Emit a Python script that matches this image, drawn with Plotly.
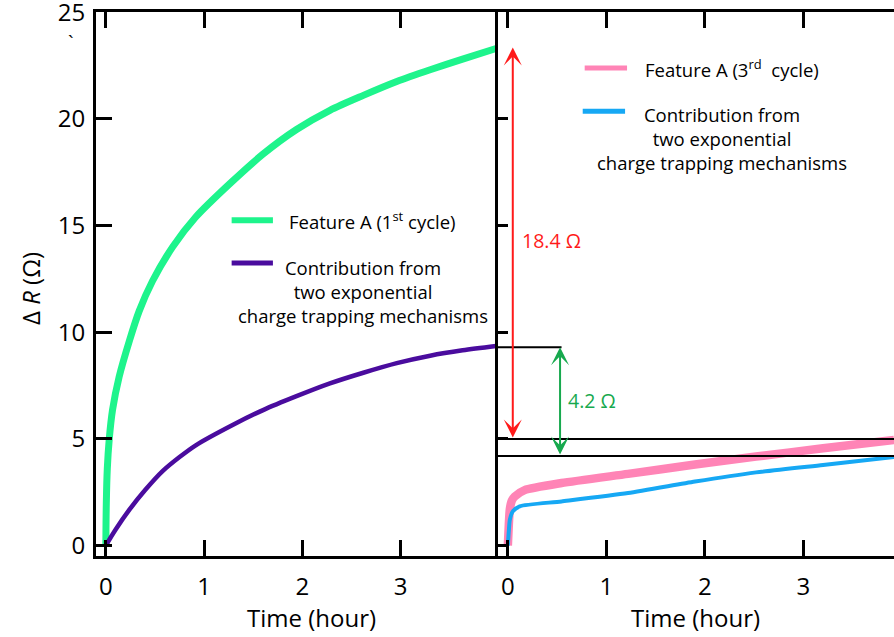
import plotly.graph_objects as go

# ---------------- data ----------------
t_green = [0, 0.005, 0.015, 0.034, 0.068, 0.135, 0.24, 0.34, 0.475, 0.68, 0.915,
           1.27, 1.6, 1.94, 2.28, 2.62, 2.96, 3.30, 3.63, 3.97]
r_green = [0, 2.0, 3.6, 4.95, 6.35, 7.9, 9.6, 11.0, 12.4, 14.0, 15.4,
           17.0, 18.35, 19.5, 20.4, 21.1, 21.75, 22.3, 22.8, 23.3]

t_purple = [0, 0.1, 0.24, 0.4, 0.58, 0.75, 0.915, 1.29, 1.6, 1.94, 2.28, 2.62,
            2.96, 3.30, 3.63, 3.97]
r_purple = [0, 0.75, 1.68, 2.6, 3.5, 4.15, 4.7, 5.65, 6.35, 7.0, 7.6, 8.1,
            8.55, 8.9, 9.15, 9.35]

t_pink = [0, 0.01, 0.02, 0.04, 0.07, 0.17, 0.545, 1.22, 1.9, 2.52, 3.2, 3.92]
r_pink = [0, 1.0, 1.7, 2.1, 2.3, 2.6, 2.93, 3.36, 3.8, 4.17, 4.56, 4.95]

t_blue = [0, 0.01, 0.02, 0.05, 0.12, 0.545, 1.22, 1.9, 2.52, 3.2, 3.92]
r_blue = [0, 0.7, 1.2, 1.6, 1.84, 2.07, 2.46, 3.0, 3.43, 3.78, 4.15]

x_ticks = [0, 1, 2, 3]
y_ticks = [0, 5, 10, 15, 20, 25]

level_top = 9.3      # end of 1st-cycle contribution
level_mid = 5.0      # end of 3rd-cycle feature A
level_low = 4.2      # end of 3rd-cycle contribution
red_top = 23.35
red_label = "18.4 Ω"
green_label = "4.2 Ω"

name_green = "Feature A (1<sup>st</sup> cycle)"
name_pink = "Feature A (3<sup>rd</sup>\u00a0 cycle)"
name_contrib = "Contribution from<br>two exponential<br>charge trapping mechanisms"

# ---------------- style ----------------
C_GREEN = "#1ef48c"
C_PURPLE = "#4a0c9e"
C_PINK = "#ff84b6"
C_BLUE = "#16a8f4"
C_RED = "#ff1a1a"
C_DGREEN = "#17a94e"
FONT = "Open Sans"

W, H = 894, 637
ML, MR, MT, MB = 96, 0, 12, 81
split = 402 / (W - ML - MR)

fig = go.Figure()
fig.add_trace(go.Scatter(x=t_green, y=r_green, mode="lines", xaxis="x", yaxis="y",
                         line=dict(color=C_GREEN, width=7, shape="spline", smoothing=0.8),
                         showlegend=False))
fig.add_trace(go.Scatter(x=t_purple, y=r_purple, mode="lines", xaxis="x", yaxis="y",
                         line=dict(color=C_PURPLE, width=4.5, shape="spline", smoothing=0.8),
                         showlegend=False))
fig.add_trace(go.Scatter(x=t_pink, y=r_pink, mode="lines", xaxis="x2", yaxis="y2",
                         line=dict(color=C_PINK, width=8.5, shape="spline", smoothing=0.6),
                         showlegend=False))
fig.add_trace(go.Scatter(x=t_blue, y=r_blue, mode="lines", xaxis="x2", yaxis="y2",
                         line=dict(color=C_BLUE, width=4, shape="spline", smoothing=0.6),
                         showlegend=False))

yr = [-0.49, 25.01]
common_x = dict(tickvals=x_ticks, ticks="inside", ticklen=16, tickwidth=3, tickcolor="black",
                showline=True, linewidth=3, linecolor="black", mirror="ticks",
                showgrid=False, zeroline=False, automargin=False,
                tickfont=dict(family=FONT, size=24, color="black"), ticklabelstandoff=7)

fig.update_layout(
    width=W, height=H,
    margin=dict(l=ML, r=MR, t=MT, b=MB, pad=0, autoexpand=False),
    paper_bgcolor="white", plot_bgcolor="white",
    font=dict(family=FONT, color="black"),
    xaxis=dict(domain=[0, split], range=[-0.10, 3.99], anchor="y", **common_x),
    xaxis2=dict(domain=[split, 1], range=[-0.10, 3.92], anchor="y2", **common_x),
    yaxis=dict(domain=[0, 1], range=yr, anchor="x", tickvals=y_ticks, ticks="inside",
               ticklen=16, tickwidth=3, tickcolor="black", showline=True, linewidth=3,
               linecolor="black", mirror=False, showgrid=False, zeroline=False,
               ticklabeloverflow="allow", automargin=False,
               tickfont=dict(family=FONT, size=24, color="black"), ticklabelstandoff=3),
    yaxis2=dict(domain=[0, 1], range=yr, anchor="x2", tickvals=y_ticks, ticks="inside",
                ticklen=10, tickwidth=3, tickcolor="black", showline=True, linewidth=3,
                linecolor="black", mirror=False, showgrid=False, zeroline=False,
                showticklabels=False, automargin=False),
    yaxis3=dict(overlaying="y2", anchor="x2", side="left", range=yr, tickvals=y_ticks,
                ticks="outside", ticklen=10, tickwidth=3, tickcolor="black", automargin=False,
                showline=False, showgrid=False, zeroline=False, showticklabels=False),
    yaxis4=dict(overlaying="y2", anchor="x2", side="right", range=yr, tickvals=y_ticks,
                ticks="inside", ticklen=11, tickwidth=3, tickcolor="black", automargin=False,
                showline=False, showgrid=False, zeroline=False, showticklabels=False),
)

# reference levels (horizontal black lines)
shapes = [
    dict(type="line", xref="x2", yref="y2", x0=-0.10, x1=0.545, y0=level_top, y1=level_top,
         line=dict(color="black", width=2)),
    dict(type="line", xref="x2", yref="y2", x0=-0.10, x1=3.92, y0=level_mid, y1=level_mid,
         line=dict(color="black", width=2)),
    dict(type="line", xref="x2", yref="y2", x0=-0.10, x1=3.92, y0=level_low, y1=level_low,
         line=dict(color="black", width=2)),
    # legend samples
    dict(type="line", xref="x", yref="y", x0=1.28, x1=1.70, y0=15.25, y1=15.25,
         line=dict(color=C_GREEN, width=6)),
    dict(type="line", xref="x", yref="y", x0=1.28, x1=1.70, y0=13.24, y1=13.24,
         line=dict(color=C_PURPLE, width=5)),
    dict(type="line", xref="x2", yref="y2", x0=0.78, x1=1.21, y0=22.38, y1=22.38,
         line=dict(color=C_PINK, width=5)),
    dict(type="line", xref="x2", yref="y2", x0=0.76, x1=1.19, y0=20.36, y1=20.36,
         line=dict(color=C_BLUE, width=5)),
]
fig.update_layout(shapes=shapes)

ann = []
# double arrows
ann.append(dict(xref="x2", yref="y2", axref="x2", ayref="y2", x=0.05, y=red_top,
                ax=0.05, ay=level_mid, text="", showarrow=True, arrowside="end+start",
                arrowhead=3, arrowsize=1.5, arrowwidth=2, arrowcolor=C_RED,
                standoff=0, startstandoff=0))
ann.append(dict(xref="x2", yref="y2", axref="x2", ayref="y2", x=0.53, y=level_top,
                ax=0.53, ay=level_low, text="", showarrow=True, arrowside="end+start",
                arrowhead=3, arrowsize=1.5, arrowwidth=2, arrowcolor=C_DGREEN,
                standoff=0, startstandoff=0))
ann.append(dict(xref="x2", yref="y2", x=0.12, y=14.3, text=red_label, showarrow=False,
                xanchor="left", yanchor="middle",
                font=dict(family=FONT, size=19.5, color=C_RED)))
ann.append(dict(xref="x2", yref="y2", x=0.59, y=6.8, text=green_label, showarrow=False,
                xanchor="left", yanchor="middle",
                font=dict(family=FONT, size=19.5, color=C_DGREEN)))
# legend texts
ann.append(dict(xref="x", yref="y", x=1.84, y=15.25, text=name_green, showarrow=False,
                xanchor="left", yanchor="middle", font=dict(family=FONT, size=18.5)))
ann.append(dict(xref="x", yref="y", x=2.614, y=11.9, text=name_contrib, showarrow=False,
                xanchor="center", yanchor="middle", align="center",
                font=dict(family=FONT, size=18.5)))
ann.append(dict(xref="x2", yref="y2", x=1.37, y=22.38, text=name_pink, showarrow=False,
                xanchor="left", yanchor="middle", font=dict(family=FONT, size=18.5)))
ann.append(dict(xref="x2", yref="y2", x=2.173, y=19.1, text=name_contrib, showarrow=False,
                xanchor="center", yanchor="middle", align="center",
                font=dict(family=FONT, size=18.5)))
# axis titles
pw = W - ML - MR
ph = H - MT - MB
ann.append(dict(xref="paper", yref="paper", x=(311 - ML) / pw, y=-(617 - (H - MB)) / ph,
                text="Time (hour)", showarrow=False, xanchor="center", yanchor="middle",
                font=dict(family=FONT, size=24)))
ann.append(dict(xref="paper", yref="paper", x=(695 - ML) / pw, y=-(617 - (H - MB)) / ph,
                text="Time (hour)", showarrow=False, xanchor="center", yanchor="middle",
                font=dict(family=FONT, size=24)))
ann.append(dict(xref="paper", yref="paper", x=(30 - ML) / pw, y=((H - MB) - 289) / ph,
                text="Δ <i>R</i> (Ω)", showarrow=False, xanchor="center", yanchor="middle",
                textangle=-90, font=dict(family=FONT, size=24)))
ann.append(dict(xref="paper", yref="paper", x=(71 - ML) / pw, y=((H - MB) - 42) / ph,
                text="`", showarrow=False, xanchor="center", yanchor="middle",
                font=dict(family=FONT, size=20)))
fig.update_layout(annotations=ann)

fig.write_html("out.html")
